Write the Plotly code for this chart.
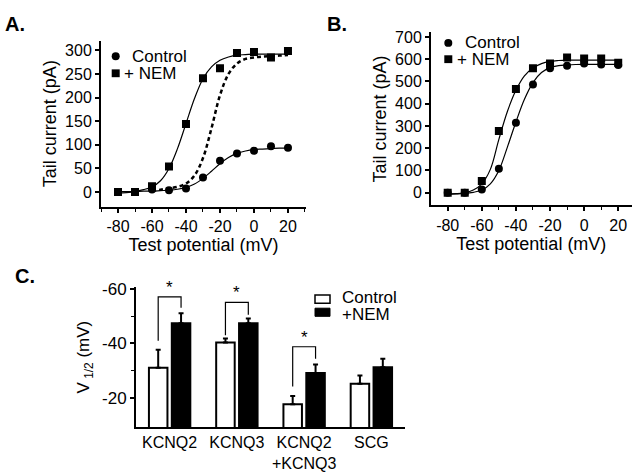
import plotly.graph_objects as go

# ---------------- data ----------------
voltages = [-80, -70, -60, -50, -40, -30, -20, -10, 0, 10, 20]
a_control = [0, 0, 5.5, 4, 7.6, 31, 66.5, 81.8, 87.3, 97, 93.6]
a_nem = [0, 0, 12.5, 54, 144, 241, 262, 294.5, 296.6, 284.8, 298.7]
b_control = [0, 0, 15, 108, 314, 486, 559, 571, 581, 576, 574]
b_nem = [0, 0, 53, 277, 466, 559, 581, 607, 603, 603, 584]

fit_v = [-80, -75, -70, -65, -60, -55, -50, -45, -40, -35, -30,
         -25, -20, -15, -10, -5, 0, 5, 10, 15, 20]
a_nem_fit = [-2, -1, 1, 5, 11, 24, 50, 92, 145, 198, 240,
             265, 279, 286, 290, 291, 292, 292, 292, 292, 292]
a_control_fit = [1, 1, 1, 2, 2, 3, 4, 6, 10, 17, 29,
                 44, 60, 73, 82, 87, 90, 91, 92, 93, 93]
dash_v = [-60, -55, -50, -45, -40, -35, -30, -25, -20, -15, -10, -5, 0, 5, 10, 15, 20]
a_scaled_fit = [3, 5, 8, 11, 18, 35, 72, 135, 205, 250, 272, 282, 285, 287, 288, 289, 290]
b_nem_fit = [-5, -4, 0, 12, 40, 105, 240, 365, 460, 525, 560,
             580, 590, 594, 596, 596, 596, 596, 596, 596, 596]
b_control_fit = [-6, -5, -3, 2, 12, 40, 100, 205, 318, 420, 495,
                 540, 562, 571, 574, 576, 577, 577, 577, 577, 577]

x_ticks = [-80, -60, -40, -20, 0, 20]
x_tick_labels = ["-80", "-60", "-40", "-20", "0", "20"]
a_y_ticks = [0, 50, 100, 150, 200, 250, 300]
b_y_ticks = [0, 100, 200, 300, 400, 500, 600, 700]

categories = ["KCNQ2", "KCNQ3", "KCNQ2<br>+KCNQ3", "SCG"]
c_control = [-31.1, -40.3, -17.8, -25.3]
c_control_err = [6.6, 1.5, 3.0, 3.0]
c_nem = [-47.4, -47.4, -29.2, -31.3]
c_nem_err = [3.6, 1.7, 3.1, 3.1]
c_y_ticks = [-60, -40, -20]
c_y_tick_labels = ["-60", "-40", "-20"]
# significance brackets: (category index, top, left leg end, right leg end)
brackets = [(0, -57, -41, -53), (1, -55, -43, -50.5), (2, -38.8, -24.3, -34.4)]

FONT = "Liberation Sans, Arial, sans-serif"
W, H = 640, 472


def px(x):
    return x / W


def py(y):
    return 1 - y / H


fig = go.Figure()
line_style = dict(color="black", width=1.2, shape="spline")

# ---------------- panel A ----------------
fig.add_trace(go.Scatter(x=fit_v, y=a_nem_fit, mode="lines", line=line_style,
                         xaxis="x", yaxis="y", showlegend=False, hoverinfo="skip"))
fig.add_trace(go.Scatter(x=fit_v, y=a_control_fit, mode="lines", line=line_style,
                         xaxis="x", yaxis="y", showlegend=False, hoverinfo="skip"))
fig.add_trace(go.Scatter(x=dash_v, y=a_scaled_fit, mode="lines",
                         line=dict(color="black", width=2.5, shape="spline", dash="4px,3px"),
                         xaxis="x", yaxis="y", showlegend=False, hoverinfo="skip"))
fig.add_trace(go.Scatter(x=voltages, y=a_control, mode="markers", name="Control",
                         marker=dict(symbol="circle", size=8, color="black"),
                         xaxis="x", yaxis="y", showlegend=False))
fig.add_trace(go.Scatter(x=voltages, y=a_nem, mode="markers", name="+ NEM",
                         marker=dict(symbol="square", size=8, color="black"),
                         xaxis="x", yaxis="y", showlegend=False))

# ---------------- panel B ----------------
fig.add_trace(go.Scatter(x=fit_v, y=b_nem_fit, mode="lines", line=line_style,
                         xaxis="x2", yaxis="y2", showlegend=False, hoverinfo="skip"))
fig.add_trace(go.Scatter(x=fit_v, y=b_control_fit, mode="lines", line=line_style,
                         xaxis="x2", yaxis="y2", showlegend=False, hoverinfo="skip"))
fig.add_trace(go.Scatter(x=voltages, y=b_control, mode="markers", name="Control",
                         marker=dict(symbol="circle", size=8, color="black"),
                         xaxis="x2", yaxis="y2", showlegend=False))
fig.add_trace(go.Scatter(x=voltages, y=b_nem, mode="markers", name="+ NEM",
                         marker=dict(symbol="square", size=8, color="black"),
                         xaxis="x2", yaxis="y2", showlegend=False))

# ---------------- panel C ----------------
cat_x = list(range(len(categories)))
fig.add_trace(go.Bar(x=cat_x, y=c_control, name="Control",
                     marker=dict(color="white", line=dict(color="black", width=2)),
                     error_y=dict(type="data", symmetric=False, array=[0] * 4, arrayminus=c_control_err,
                                  color="black", thickness=2, width=2.5),
                     xaxis="x3", yaxis="y3", showlegend=False))
fig.add_trace(go.Bar(x=cat_x, y=c_nem, name="+NEM",
                     marker=dict(color="black", line=dict(color="black", width=2)),
                     error_y=dict(type="data", symmetric=False, array=[0] * 4, arrayminus=c_nem_err,
                                  color="black", thickness=2, width=2.5),
                     xaxis="x3", yaxis="y3", showlegend=False))

shapes = []
annotations = []
off = 0.17
for i, top, lb, rb in brackets:
    shapes.append(dict(type="path", xref="x3", yref="y3",
                       path=f"M {i - off},{lb} L {i - off},{top} L {i + off},{top} L {i + off},{rb}",
                       line=dict(color="black", width=1.2)))
    annotations.append(dict(x=i, y=top - 3.5, xref="x3", yref="y3", text="*", showarrow=False,
                            font=dict(family=FONT, size=17, color="black")))

axis_common = dict(showline=True, linecolor="black", linewidth=2, showgrid=False, zeroline=False,
                   ticks="outside", tickcolor="black", tickwidth=1.5, ticklen=4,
                   tickfont=dict(family=FONT, size=16, color="black"))
title_font = dict(family=FONT, size=18, color="black")
minor_x = dict(dtick=10, tick0=-80, ticks="outside", ticklen=3, tickcolor="black", tickwidth=1.2)

fig.update_layout(
    width=W, height=H, margin=dict(l=0, r=0, t=0, b=0),
    paper_bgcolor="white", plot_bgcolor="white",
    bargap=0.32, bargroupgap=0.19, barmode="group",
    xaxis=dict(domain=[px(101), px(306)], range=[-90, 30.6], anchor="y",
               tickmode="array", tickvals=x_ticks, ticktext=x_tick_labels, minor=minor_x,
               title=dict(text="Test potential (mV)", font=title_font, standoff=0),
               **axis_common),
    yaxis=dict(domain=[py(203), py(33.3)], range=[-31, 320.7], anchor="x",
               tickmode="array", tickvals=a_y_ticks,
               title=dict(text="Tail current (pA)", font=title_font, standoff=4),
               **axis_common),
    xaxis2=dict(domain=[px(431), px(631.7)], range=[-89.8, 27.9], anchor="y2",
                tickmode="array", tickvals=x_ticks, ticktext=x_tick_labels, minor=minor_x,
                title=dict(text="Test potential (mV)", font=title_font, standoff=5),
                **axis_common),
    yaxis2=dict(domain=[py(201.7), py(25)], range=[-57, 720], anchor="x2",
                tickmode="array", tickvals=b_y_ticks,
                title=dict(text="Tail current (pA)", font=title_font, standoff=4),
                **axis_common),
    xaxis3=dict(domain=[px(136), px(405)], range=[-0.5, 3.5], anchor="y3",
                tickmode="array", tickvals=cat_x, ticktext=categories,
                showline=True, linecolor="black", linewidth=2, showgrid=False, zeroline=False,
                ticks="", ticklen=0, tickfont=dict(family=FONT, size=16, color="black")),
    yaxis3=dict(domain=[py(428.1), py(285.3)], range=[-9.5, -60.5], anchor="x3",
                tickmode="array", tickvals=c_y_ticks, ticktext=c_y_tick_labels,
                minor=dict(tickmode="array", tickvals=[-50, -30], ticks="outside", ticklen=3,
                           tickcolor="black", tickwidth=1.2),
                title=dict(text="V<sub> 1/2</sub> (mV)", font=dict(family=FONT, size=17, color="black"), standoff=8),
                showline=True, linecolor="black", linewidth=2, showgrid=False, zeroline=False,
                ticks="outside", tickcolor="black", tickwidth=1.5, ticklen=4,
                tickfont=dict(family=FONT, size=17, color="black")),
)

# panel labels
for txt, x, y in [("A.", 3, 16), ("B.", 325, 16), ("C.", 13, 274)]:
    annotations.append(dict(x=px(x), y=py(y), xref="paper", yref="paper", xanchor="left", yanchor="middle",
                            text=f"<b>{txt}</b>", showarrow=False, font=dict(family=FONT, size=20, color="black")))

# legends for A and B (marker + label)
legend_font = dict(family=FONT, size=17, color="black")
for cx, cy1, cy2, tx1, tx2 in [(115.7, 49.3, 66.7, 129.5, 122), (448.3, 35.7, 52.3, 462.5, 455)]:
    r = 4
    shapes.append(dict(type="circle", xref="paper", yref="paper", x0=px(cx - r), x1=px(cx + r),
                       y0=py(cy1 + r), y1=py(cy1 - r), fillcolor="black", line=dict(width=0)))
    shapes.append(dict(type="rect", xref="paper", yref="paper", x0=px(cx - r), x1=px(cx + r),
                       y0=py(cy2 + r), y1=py(cy2 - r), fillcolor="black", line=dict(width=0)))
    annotations.append(dict(x=px(tx1), y=py(cy1), xref="paper", yref="paper", xanchor="left", yanchor="middle",
                            text="Control", showarrow=False, font=legend_font))
    annotations.append(dict(x=px(tx2), y=py(cy2), xref="paper", yref="paper", xanchor="left", yanchor="middle",
                            text="+ NEM", showarrow=False, font=legend_font))

# legend for C
shapes.append(dict(type="rect", xref="paper", yref="paper", x0=px(315), x1=px(330), y0=py(301.7), y1=py(293.3),
                   fillcolor="white", line=dict(color="black", width=1.5)))
shapes.append(dict(type="rect", xref="paper", yref="paper", x0=px(315), x1=px(330), y0=py(315), y1=py(306.7),
                   fillcolor="black", line=dict(color="black", width=1)))
annotations.append(dict(x=px(340), y=py(296), xref="paper", yref="paper", xanchor="left", yanchor="middle",
                        text="Control", showarrow=False, font=legend_font))
annotations.append(dict(x=px(340), y=py(313), xref="paper", yref="paper", xanchor="left", yanchor="middle",
                        text="+NEM", showarrow=False, font=legend_font))

fig.update_layout(shapes=shapes, annotations=annotations)
fig.write_html(
    "out.html",
    config={"displayModeBar": False},
    post_script="document.body.style.margin='0';document.body.style.overflow='hidden';"
                "document.documentElement.style.overflow='hidden';",
)
